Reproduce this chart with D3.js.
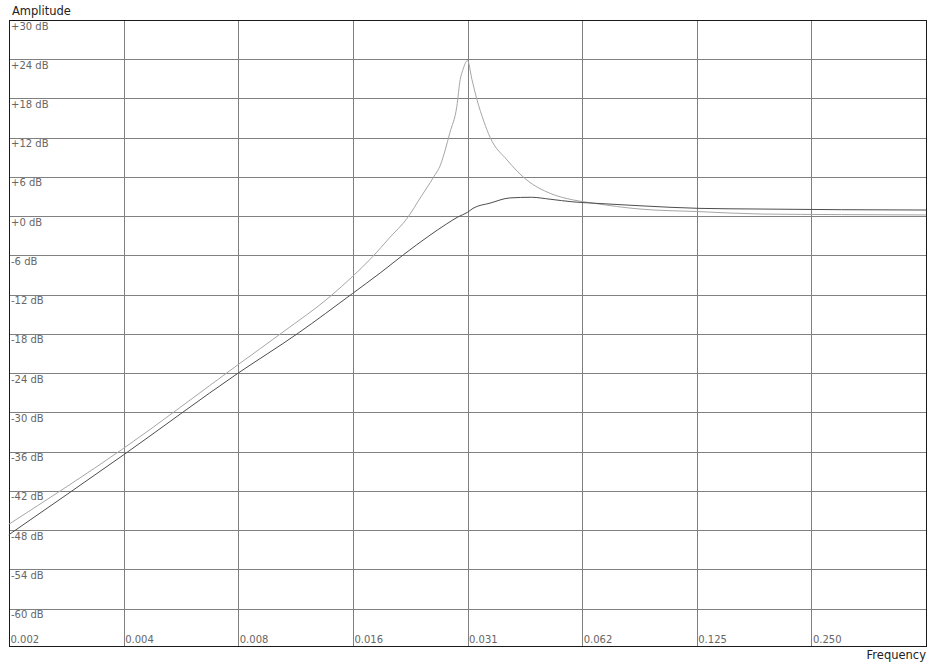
<!DOCTYPE html>
<html>
<head>
<meta charset="utf-8">
<script src="https://cdn.jsdelivr.net/npm/d3@7"></script>
<style>
  body { margin: 0; background: #fff; }
  svg { display: block; }
  text { font-family: "DejaVu Sans", sans-serif; }
</style>
</head>
<body>
<div id="chart"></div>
<script>
// Filter response: amplitude (dB) vs normalised frequency

const dbTicks = [30, 24, 18, 12, 6, 0, -6, -12, -18, -24, -30, -36, -42, -48, -54, -60];
const freqTicks = [1/512, 1/256, 1/128, 1/64, 1/32, 1/16, 1/8, 1/4];
const freqLabels = ["0.002", "0.004", "0.008", "0.016", "0.031", "0.062", "0.125", "0.250"];

// light curve (resonant)
const lightFreq = [0.00195, 0.0039, 0.0078, 0.01024, 0.0136, 0.0156, 0.0176, 0.0195, 0.0217, 0.0236, 0.0254, 0.0266, 0.0273, 0.0281, 0.0293, 0.0299, 0.0304, 0.03125, 0.0321, 0.0331, 0.0345, 0.0358, 0.0397, 0.0448, 0.0515, 0.0591, 0.0668, 0.0887, 0.1275, 0.1833, 0.30, 0.5];
const lightDb   = [-47.1, -35.5, -22.7, -17.7, -12.3, -9.2, -6.2, -3.3, -0.3, 3.0, 5.9, 8.0, 10.1, 12.8, 16.8, 20.9, 22.4, 23.8, 20.9, 17.8, 14.5, 12.1, 8.6, 5.5, 3.5, 2.5, 2.0, 1.1, 0.7, 0.34, 0.25, 0.2];

// dark curve (damped)
const darkFreq = [0.00195, 0.0039, 0.0078, 0.01121, 0.0156, 0.0185, 0.0212, 0.0249, 0.0275, 0.0295, 0.03125, 0.0323, 0.0358, 0.0404, 0.0460, 0.0515, 0.0591, 0.0668, 0.0887, 0.1275, 0.1833, 0.30, 0.5];
const darkDb   = [-48.7, -36.5, -24.0, -17.9, -11.8, -8.6, -5.9, -2.9, -1.2, -0.1, 0.6, 1.2, 2.0, 2.8, 2.9, 2.6, 2.2, 2.0, 1.6, 1.2, 1.1, 1.0, 0.95];

const W = 932, H = 662;
const plot = { left: 9, right: 926, top: 20, bottom: 646 };

const svg = d3.select("#chart").append("svg")
  .attr("width", W)
  .attr("height", H);

const x = d3.scaleLog().base(2)
  .domain([1/512, 0.5])
  .range([plot.left, plot.right]);

const y = d3.scaleLinear()
  .domain([-65.7, 30])
  .range([plot.bottom, plot.top]);

// grid
const grid = svg.append("g").attr("shape-rendering", "crispEdges");

grid.selectAll(".hgrid")
  .data(dbTicks)
  .enter().append("line")
  .attr("x1", plot.left).attr("x2", plot.right)
  .attr("y1", d => Math.round(y(d)) + 0.5)
  .attr("y2", d => Math.round(y(d)) + 0.5)
  .attr("stroke", "#808080")
  .attr("stroke-width", 1);

grid.selectAll(".vgrid")
  .data(freqTicks)
  .enter().append("line")
  .attr("x1", d => Math.round(x(d)) + 0.5)
  .attr("x2", d => Math.round(x(d)) + 0.5)
  .attr("y1", plot.top).attr("y2", plot.bottom)
  .attr("stroke", "#808080")
  .attr("stroke-width", 1);

// frame
svg.append("rect")
  .attr("x", plot.left + 0.5)
  .attr("y", plot.top + 0.5)
  .attr("width", plot.right - plot.left)
  .attr("height", plot.bottom - plot.top)
  .attr("fill", "none")
  .attr("stroke", "#1a1a1a")
  .attr("stroke-width", 1)
  .attr("shape-rendering", "crispEdges");

// dB labels, just under each line, inside the plot
svg.selectAll(".dbLabel")
  .data(dbTicks)
  .enter().append("text")
  .attr("x", plot.left + 2)
  .attr("y", d => y(d) + 9.5)
  .style("font-size", "10px")
  .style("fill", "#666")
  .text(d => (d >= 0 ? "+" : "-") + Math.abs(d) + " dB");

// frequency labels along the bottom
svg.selectAll(".fLabel")
  .data(freqTicks)
  .enter().append("text")
  .attr("x", d => x(d) + 1.5)
  .attr("y", plot.bottom - 3)
  .style("font-size", "10px")
  .style("fill", "#666")
  .text((d, i) => freqLabels[i]);

// curves
const line = d3.line()
  .x(d => x(d[0]))
  .y(d => y(d[1]))
  .curve(d3.curveMonotoneX);

svg.append("path")
  .datum(lightFreq.map((f, i) => [f, lightDb[i]]))
  .attr("d", line)
  .attr("fill", "none")
  .attr("stroke", "#a6a6a6")
  .attr("stroke-width", 1);

svg.append("path")
  .datum(darkFreq.map((f, i) => [f, darkDb[i]]))
  .attr("d", line)
  .attr("fill", "none")
  .attr("stroke", "#4d4d4d")
  .attr("stroke-width", 1);

// axis titles
svg.append("text")
  .attr("x", 12)
  .attr("y", 15)
  .style("font-size", "11.5px")
  .style("fill", "#222")
  .text("Amplitude");

svg.append("text")
  .attr("x", plot.right)
  .attr("y", 659)
  .attr("text-anchor", "end")
  .style("font-size", "11.5px")
  .style("fill", "#222")
  .text("Frequency");
</script>
</body>
</html>
